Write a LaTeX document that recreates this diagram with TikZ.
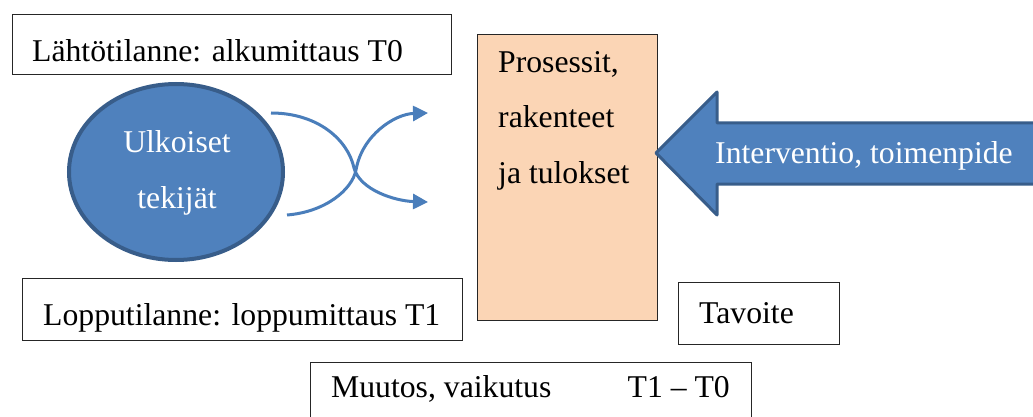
\documentclass[tikz,border=0pt]{standalone}
\usepackage{fontspec}
\setmainfont{Liberation Serif}
\usetikzlibrary{shapes.geometric,arrows.meta}
\definecolor{fillblue}{HTML}{4F81BD}
\definecolor{edgeblue}{HTML}{385D8A}
\definecolor{curveblue}{HTML}{4A7EBB}
\definecolor{peach}{HTML}{FBD5B5}
\tikzset{
  framebox/.style={draw=black!85, line width=1.3pt, fill=white, rectangle,
    inner sep=0pt, anchor=north west},
  label/.style={anchor=base west, inner sep=0pt, text=black,
    font=\fontsize{31.7}{38}\selectfont},
  wlabel/.style={label, text=white},
  flow/.style={draw=curveblue, line width=3pt,
    -{Triangle[length=15pt,width=15pt]}},
}
\begin{document}
\begin{tikzpicture}[x=1pt,y=-1pt]
\useasboundingbox (0,0) rectangle (1033,417);
\clip (0,0) rectangle (1033,417);

% text boxes
\node[framebox, minimum width=439pt, minimum height=60pt] (start) at (12,14) {};
\node[label] (startT) at (32,62) {Lähtötilanne: alkumittaus T0};

\node[framebox, minimum width=440pt, minimum height=62pt] (end) at (22,278) {};
\node[label] (endT) at (43,325) {Lopputilanne: loppumittaus T1};

\node[framebox, minimum width=161pt, minimum height=62pt] (goal) at (678,282) {};
\node[label] (goalT) at (699,323) {Tavoite};

\node[framebox, minimum width=441pt, minimum height=80pt] (change) at (310,362) {};
\node[label] (changeT) at (331,397) {Muutos, vaikutus};
\node[label, anchor=base east] (diffT) at (730,397) {T1 -- T0};

% process column
\node[framebox, fill=peach, minimum width=180pt, minimum height=286pt] (proc) at (477,34) {};
\node[label] (procA) at (498,73) {Prosessit,};
\node[label] (procB) at (498,128) {rakenteet};
\node[label] (procC) at (498,183) {ja tulokset};

% intervention arrow
\draw[fill=fillblue, draw=edgeblue, line width=3pt, line join=round]
  (656,153) -- (717,92) -- (717,123) -- (1045,123) -- (1045,184)
  -- (717,184) -- (717,215) -- cycle;
\node[wlabel] (intT) at (715,163) {Interventio, toimenpide};

% external factors
\node[ellipse, draw=edgeblue, fill=fillblue, line width=4pt, inner sep=0pt,
  minimum width=214pt, minimum height=176pt] (ext) at (176,172) {};
\node[wlabel, anchor=base] (extA) at (177,153) {Ulkoiset};
\node[wlabel, anchor=base] (extB) at (177,208) {tekijät};

% crossing influences
\coordinate (a1) at (271,113);
\coordinate (a2) at (428,202);
\coordinate (b1) at (287,215);
\coordinate (b2) at (428,113);
\draw[flow] (a1) .. controls (318,113) and (348,140) .. (354,168)
  .. controls (360,190) and (395,201) .. (a2);
\draw[flow] (b1) .. controls (325,212) and (352,190) .. (356,170)
  .. controls (362,135) and (395,114) .. (b2);
\end{tikzpicture}
\end{document}
